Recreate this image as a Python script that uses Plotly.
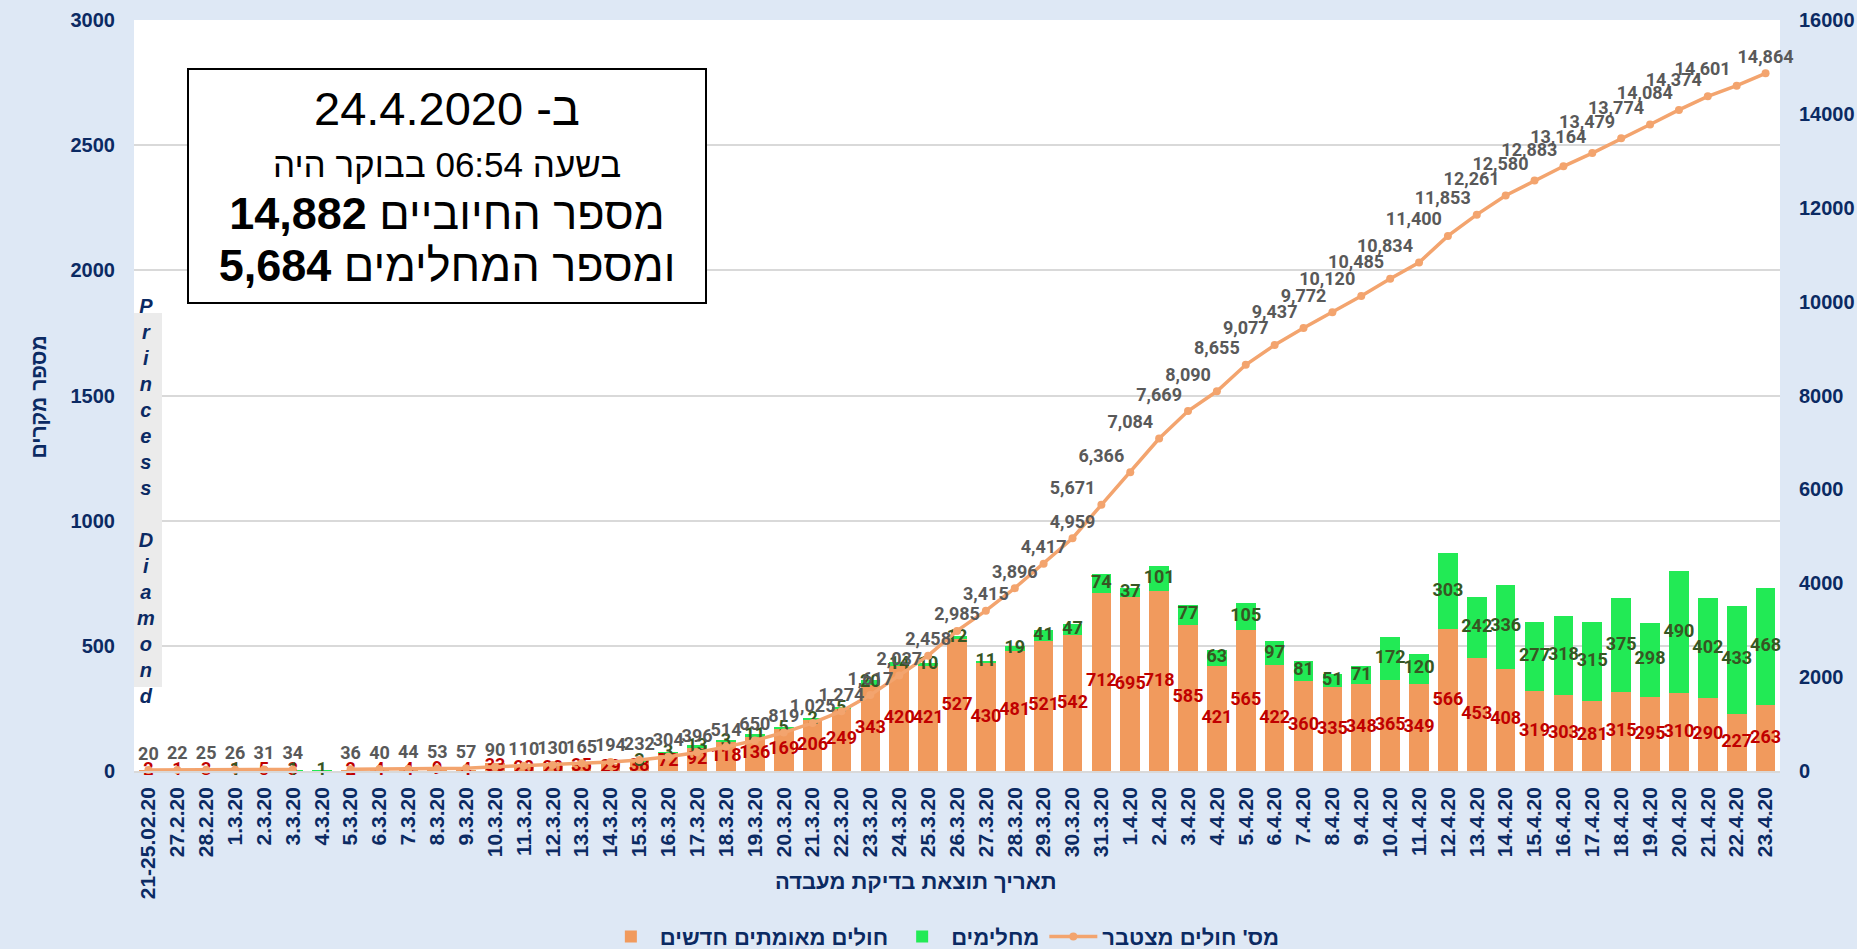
import plotly.graph_objects as go

# dates of lab results
dates = ["21-25.02.20", "27.2.20", "28.2.20"] + [f"{d}.3.20" for d in range(1, 32)] + [f"{d}.4.20" for d in range(1, 24)]

# new confirmed cases per day
new_cases = [2, 1, 3, 1, 5, 3, None, 2, 4, 4, 9, 4, 33, 20, 20, 35, 29, 38, 72, 92,
             118, 136, 169, 206, 249, 343, 420, 421, 527, 430, 481, 521, 542, 712,
             695, 718, 585, 421, 565, 422, 360, 335, 348, 365, 349, 566, 453, 408,
             319, 303, 281, 315, 295, 310, 290, 227, 263]

# recovered per day
recovered = [0, 0, 0, 1, 0, 1, 1, 0, 0, 0, 0, 0, 0, 0, 0, 0, 0, 3, 3, 13,
             3, 11, 5, 2, 5, 20, 14, 10, 12, 11, 19, 41, 47, 74,
             37, 101, 77, 63, 105, 97, 81, 51, 71, 172, 120, 303, 242, 336,
             277, 318, 315, 375, 298, 490, 402, 433, 468]

# cumulative cases
cumulative = [20, 22, 25, 26, 31, 34, None, 36, 40, 44, 53, 57, 90, 110, 130, 165, 194, 232, 304, 396,
              514, 650, 819, 1025, 1274, 1617, 2037, 2458, 2985, 3415, 3896, 4417, 4959, 5671,
              6366, 7084, 7669, 8090, 8655, 9077, 9437, 9772, 10120, 10485, 10834, 11400, 11853, 12261,
              12580, 12883, 13164, 13479, 13774, 14084, 14374, 14601, 14864]

NAVY = "#0b2a63"
ORANGE = "#f19a5d"
GREEN = "#22ea55"
LINE = "#f3a46e"
BG = "#dee8f5"
LBL = "Roboto"
ARIAL = "Liberation Sans, Arial"

fig = go.Figure()

fig.add_trace(go.Bar(x=dates, y=new_cases, name="חולים מאומתים חדשים",
                     marker=dict(color=ORANGE, line=dict(width=0)), hoverinfo="skip"))
fig.add_trace(go.Bar(x=dates, y=recovered, name="מחלימים",
                     marker=dict(color=GREEN, line=dict(width=0)), hoverinfo="skip"))

pos = ["top center" if i < 33 or i == len(dates) - 1 else "top left" for i in range(len(dates))]
fig.add_trace(go.Scatter(x=dates, y=cumulative, yaxis="y2", name="מס' חולים מצטבר",
                         mode="lines+markers+text", connectgaps=False, cliponaxis=False,
                         line=dict(color=LINE, width=3.5), marker=dict(color=LINE, size=8),
                         texttemplate="%{y:,}", textposition=pos,
                         textfont=dict(family=LBL, size=18, color="#595959", weight="bold"),
                         hoverinfo="skip"))

# labels inside the bars
red_x = [d for d, v in zip(dates, new_cases) if v]
red_y = [v / 2 for v in new_cases if v]
red_t = [str(v) for v in new_cases if v]
fig.add_trace(go.Scatter(x=red_x, y=red_y, mode="text", text=red_t, showlegend=False, cliponaxis=False,
                         textfont=dict(family=LBL, size=18, color="#c00000", weight="bold"),
                         hoverinfo="skip"))

grn_x = [d for d, r in zip(dates, recovered) if r]
grn_y = [(n or 0) + r / 2 for n, r in zip(new_cases, recovered) if r]
grn_t = [str(r) for r in recovered if r]
fig.add_trace(go.Scatter(x=grn_x, y=grn_y, mode="text", text=grn_t, showlegend=False, cliponaxis=False,
                         textfont=dict(family=LBL, size=18, color="#375623", weight="bold"),
                         hoverinfo="skip"))

tick_font = dict(family=ARIAL, size=20, color=NAVY, weight="bold")

fig.update_layout(
    width=1857, height=949,
    barmode="stack", bargap=0.32,
    paper_bgcolor=BG, plot_bgcolor="white",
    margin=dict(l=134, r=77, t=20, b=178, autoexpand=False),
    font=dict(family=ARIAL, color=NAVY),
    xaxis=dict(type="category", tickangle=-90, tickfont=dict(family=ARIAL, size=21, color=NAVY, weight="bold"),
               showgrid=False, showline=True, linecolor="#d9d9d9", linewidth=1.5, ticks="",
               ticklabelstandoff=6, range=[-0.5, len(dates) - 0.5]),
    yaxis=dict(range=[0, 3000], dtick=500, tickfont=tick_font, showgrid=True, gridcolor="#d9d9d9",
               gridwidth=1.5, zeroline=False, ticklabelstandoff=18, tickformat="d"),
    yaxis2=dict(range=[0, 16000], dtick=2000, tickfont=tick_font, overlaying="y", side="right",
                showgrid=False, zeroline=False, ticklabelstandoff=18, tickformat="d"),
    legend=dict(orientation="h", xref="container", yref="container", x=0.508, xanchor="center",
                y=0.013, yanchor="middle", itemwidth=48,
                font=dict(family=ARIAL, size=22, color=NAVY, weight="bold"),
                bgcolor="rgba(0,0,0,0)", traceorder="normal"),
    showlegend=True,
)

# grey strip + vertical Princess Diamond label
fig.add_shape(type="rect", xref="paper", yref="paper", x0=0, x1=0.017, y0=0.112, y1=0.61,
              fillcolor="#ebebeb", line=dict(width=0), layer="above")
fig.add_annotation(xref="paper", yref="paper", x=0.0073, y=0.3595, xanchor="center", yanchor="middle",
                   text="<br>".join(list("Princess")) + "<br> <br>" + "<br>".join(list("Diamond")),
                   showarrow=False,
                   font=dict(family=ARIAL, size=20, color=NAVY, weight="bold", style="italic"))

# summary box
fig.add_annotation(xref="paper", yref="paper", x=0.190, y=0.7796, xanchor="center", yanchor="middle",
                   text="<span style='font-size:47px'>ב- 24.4.2020</span>"
                        "<br><span style='font-size:35px'>בשעה 06:54 בבוקר היה</span>"
                        "<br><span style='font-size:45px'>מספר החיוביים <b>14,882</b></span>"
                        "<br><span style='font-size:45px'>ומספר המחלימים <b>5,684</b></span>",
                   showarrow=False, width=490, height=206, bgcolor="white",
                   bordercolor="black", borderwidth=2, borderpad=13,
                   font=dict(family=ARIAL, size=40, color="black"))

# axis titles
fig.add_annotation(xref="paper", yref="paper", x=-0.0668, y=0.498, textangle=-90, showarrow=False,
                   text="מספר מקרים", font=dict(size=21, color=NAVY, weight="bold"))
fig.add_annotation(xref="paper", yref="paper", x=0.475, y=-0.167, showarrow=False,
                   text="תאריך תוצאת בדיקת מעבדה", font=dict(size=22, color=NAVY, weight="bold"))

fig.write_html("out.html", config={"displayModeBar": False},
               post_script="document.body.style.margin='0';")
